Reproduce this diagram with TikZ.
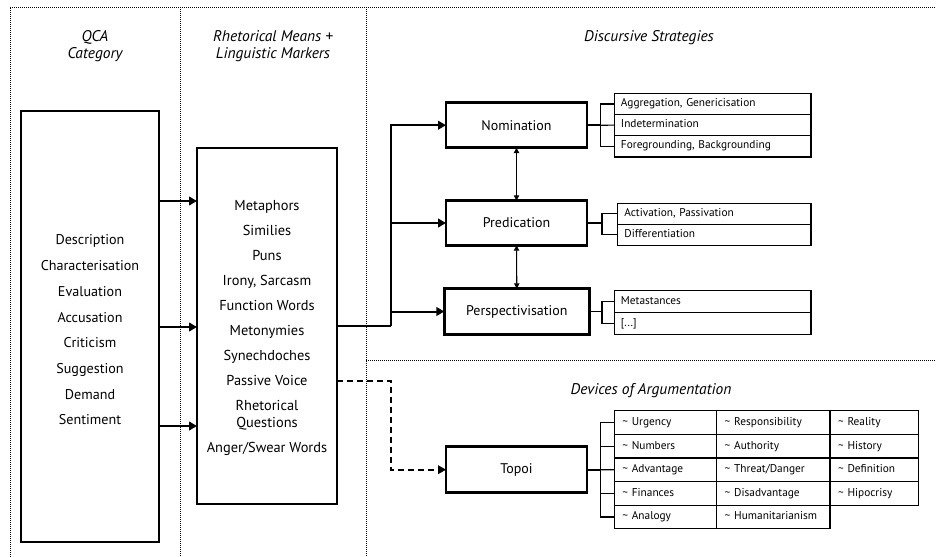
\documentclass[tikz,border=0pt]{standalone}
\usepackage{fontspec}
\setmainfont{PT Sans}
\usetikzlibrary{arrows.meta}

\begin{document}
\begin{tikzpicture}[x=0.75pt,y=-0.75pt,
  frameline/.style={densely dotted, line width=0.5pt},
  coltitle/.style={font=\fontsize{11.6}{12.75}\selectfont\itshape, align=center, inner sep=0pt},
  bigbox/.style={draw, line width=2pt, inner sep=0pt, outer sep=0pt},
  stratbox/.style={draw, line width=2pt, inner sep=0pt, outer sep=0pt,
    font=\fontsize{10.5}{12}\selectfont},
  listtext/.style={align=center, inner sep=0pt},
  subrow/.style={draw, line width=0.9pt, anchor=north west, inner ysep=0pt,
    inner xsep=5pt, outer sep=0pt, align=left, text height=6pt, text depth=2pt,
    font=\fontsize{8.5}{9}\selectfont},
  toprow/.style={draw, line width=0.9pt, anchor=north west, inner ysep=0pt,
    inner xsep=6pt, outer sep=0pt, align=left, text height=6.5pt, text depth=2pt,
    minimum height=17.7pt, font=\fontsize{8.5}{9}\selectfont},
  arr/.style={line width=1.5pt, -{Triangle[length=6pt,width=6.5pt]}},
  trunkline/.style={line width=1.5pt},
  dblarr/.style={line width=0.8pt, {Triangle[length=4pt,width=4pt]}-{Triangle[length=4pt,width=4pt]}},
  dasharr/.style={line width=1.2pt, dash pattern=on 4.5pt off 3pt, -{Triangle[length=6pt,width=6.5pt]}},
  stem/.style={line width=1.3pt},
  brk/.style={line width=0.9pt}
]
\useasboundingbox (0,0) rectangle (936,557);

% dotted column frame
\draw[frameline] (10,557) -- (10,7) -- (936,7);
\draw[frameline] (180,7) -- (180,557);
\draw[frameline] (366,7) -- (366,557);
\draw[frameline] (366,360) -- (936,360);

% column titles
\node[coltitle] (t1) at (95,46.5) {QCA\\Category};
\node[coltitle] (t2) at (273,46.5) {Rhetorical Means +\\Linguistic Markers};
\node[coltitle] (t3) at (649,37.5) {Discursive Strategies};
\node[coltitle] (t4) at (651,390.5) {Devices of Argumentation};

% QCA categories
\node[bigbox, minimum width=103.5pt, minimum height=323.25pt] (qca) at (90,326.5) {};
\node[listtext, font=\fontsize{10.6}{19.28}\selectfont] (qcaitems) at (90,330)
  {Description\\Characterisation\\Evaluation\\Accusation\\Criticism\\Suggestion\\Demand\\Sentiment};

% rhetorical means
\node[bigbox, minimum width=105pt, minimum height=267pt] (rhet) at (267,326) {};
\node[listtext, font=\fontsize{10.8}{18.75}\selectfont] (rhetitems) at (267,327.5)
  {Metaphors\\Similies\\Puns\\Irony, Sarcasm\\Function Words\\Metonymies\\Synechdoches\\Passive Voice\\Rhetorical\\[-6pt]Questions\\Anger/Swear Words};

\coordinate (a1) at (0,201);
\coordinate (a2) at (0,327);
\coordinate (a3) at (0,426);
\draw[arr] (qca.east |- a1) -- (rhet.west |- a1);
\draw[arr] (qca.east |- a2) -- (rhet.west |- a2);
\draw[arr] (qca.east |- a3) -- (rhet.west |- a3);

% discursive strategies
\node[stratbox, minimum width=105.75pt, minimum height=33.75pt] (nom) at (516.5,125.2) {Nomination};
\node[stratbox, minimum width=105.75pt, minimum height=33.5pt] (pred) at (516.5,223) {Predication};
\node[stratbox, minimum width=108.75pt, minimum height=34.2pt] (persp) at (516.8,311.5) {Perspectivisation};

\coordinate (trunk) at (391,326);
\draw[trunkline] (rhet.east |- trunk) -- (trunk);
\draw[arr] (trunk) |- (nom.west);
\draw[arr] (trunk |- pred.west) -- (pred.west);
\draw[arr] (trunk |- persp.west) -- (persp.west);

\draw[dblarr] (nom.south) -- (pred.north);
\draw[dblarr] (pred.south) -- (persp.north);

% nomination sub-strategies
\node[subrow, minimum height=15.9pt, minimum width=145pt, text width=137.5pt] (n1) at (614.3,93.3) {Aggregation, Genericisation};
\node[subrow, minimum height=15.9pt, minimum width=145pt, text width=137.5pt] (n2) at (614.3,114.5) {Indetermination};
\node[subrow, minimum height=15.9pt, minimum width=145pt, text width=137.5pt] (n3) at (614.3,135.7) {Foregrounding, Backgrounding};
\coordinate (nb) at (600.7,125.2);
\draw[stem] (nom.east) -- (nb);
\draw[brk] (n1.west) -| (nb) |- (n3.west);
\draw[brk] (nb) -- (n2.west);

% predication sub-strategies
\node[subrow, minimum height=15.75pt, minimum width=142.5pt, text width=135pt] (p1) at (617.7,203.3) {Activation, Passivation};
\node[subrow, minimum height=15.75pt, minimum width=142.5pt, text width=135pt] (p2) at (617.7,224.3) {Differentiation};
\coordinate (pb) at (602,223);
\draw[stem] (pred.east) -- (pb);
\draw[brk] (p1.west) -| (pb) |- (p2.west);

% perspectivisation sub-strategies
\node[subrow, minimum height=16.35pt, minimum width=145pt, text width=137.5pt] (s1) at (614.3,290.7) {Metastances};
\node[subrow, minimum height=16.35pt, minimum width=145pt, text width=137.5pt] (s2) at (614.3,312.5) {[...]};
\coordinate (sb) at (602,311.5);
\draw[stem] (persp.east) -- (sb);
\draw[brk] (s1.west) -| (sb) |- (s2.west);

% argumentation
\node[stratbox, minimum width=105.75pt, minimum height=34.5pt] (topoi) at (516.5,469.7) {Topoi};
\coordinate (dashbend) at (391,381);
\draw[dasharr] (rhet.east |- dashbend) -- (dashbend) |- (topoi.west);

% topoi grid
\node[toprow, minimum width=76.8pt, text width=64.8pt] (c11) at (614.3,410.7) {\textasciitilde\ Urgency};
\node[toprow, minimum width=76.8pt, text width=64.8pt] (c12) at (614.3,434.3) {\textasciitilde\ Numbers};
\node[toprow, minimum width=76.8pt, text width=64.8pt] (c13) at (614.3,457.9) {\textasciitilde\ Advantage};
\node[toprow, minimum width=76.8pt, text width=64.8pt] (c14) at (614.3,481.5) {\textasciitilde\ Finances};
\node[toprow, minimum width=76.8pt, text width=64.8pt] (c15) at (614.3,505.1) {\textasciitilde\ Analogy};
\node[toprow, minimum width=85pt, text width=73pt] (c21) at (716.7,410.7) {\textasciitilde\ Responsibility};
\node[toprow, minimum width=85pt, text width=73pt] (c22) at (716.7,434.3) {\textasciitilde\ Authority};
\node[toprow, minimum width=85pt, text width=73pt] (c23) at (716.7,457.9) {\textasciitilde\ Threat/Danger};
\node[toprow, minimum width=85pt, text width=73pt] (c24) at (716.7,481.5) {\textasciitilde\ Disadvantage};
\node[toprow, minimum width=85pt, text width=73pt] (c25) at (716.7,505.1) {\textasciitilde\ Humanitarianism};
\node[toprow, minimum width=66.2pt, text width=54.2pt] (c31) at (830,410.7) {\textasciitilde\ Reality};
\node[toprow, minimum width=66.2pt, text width=54.2pt] (c32) at (830,434.3) {\textasciitilde\ History};
\node[toprow, minimum width=66.2pt, text width=54.2pt] (c33) at (830,457.9) {\textasciitilde\ Definition};
\node[toprow, minimum width=66.2pt, text width=54.2pt] (c34) at (830,481.5) {\textasciitilde\ Hipocrisy};

\coordinate (tb) at (600.7,469.7);
\draw[stem] (topoi.east) -- (tb);
\draw[brk] (c11.west) -| (tb) |- (c15.west);
\draw[brk] (c12.west) -| (tb);
\draw[brk] (c14.west) -| (tb);
\draw[brk] (tb) -- (c13.west);
\end{tikzpicture}
\end{document}
